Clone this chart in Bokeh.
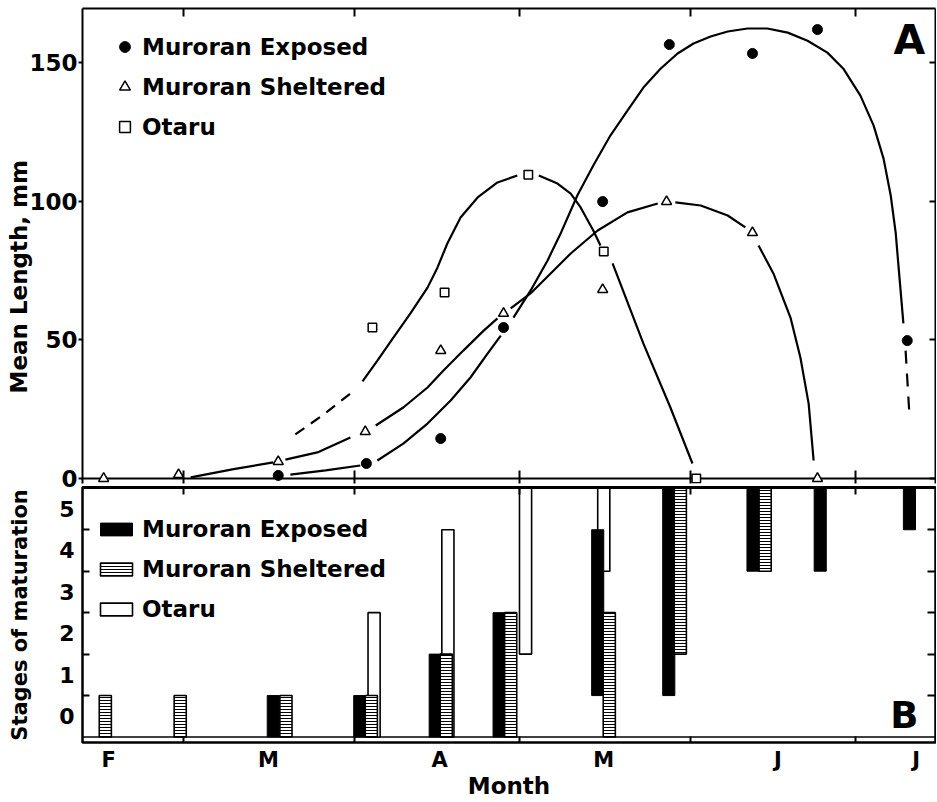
from bokeh.plotting import figure
from bokeh.models import Range1d, LinearAxis, FixedTicker, Span, Legend, LegendItem, Label, Title
from bokeh.layouts import column
from bokeh.embed import file_html
from bokeh.resources import INLINE

NaN = float("nan")
FONT = "DejaVu Sans"

# ---------------- x axis: day of year ----------------
month_start_days = [60, 91, 121, 152, 182]
month_label_days = [46.4, 75.4, 106.5, 136.3, 167.9, 193.0]
month_labels = ["F", "M", "A", "M", "J", "J"]

length_ticks = [0, 50, 100, 150]
stage_ticks = [0, 1, 2, 3, 4, 5]
stage_bounds = [0.5, 1.5, 2.5, 3.5, 4.5]

# ---------------- Panel A: mean length (mm) ----------------
exp_day = [77.2, 93.2, 106.7, 118.1, 136.1, 148.2, 163.3, 175.1, 191.4]
exp_len = [1.1, 5.4, 14.4, 54.4, 99.8, 156.4, 153.2, 161.8, 49.7]
she_day = [45.5, 59.1, 77.2, 93.0, 106.7, 118.1, 136.1, 147.7, 163.3, 175.1]
she_len = [0.0, 1.4, 6.1, 16.9, 46.1, 59.5, 68.1, 99.8, 88.6, 0.0]
ota_day = [94.3, 107.4, 122.6, 136.3, 153.1]
ota_len = [54.4, 67.0, 109.5, 81.8, 0.0]

# hand-drawn fitted curves (NaN = break)
exp_curve_day = [79.4, 85.8, 92.1, NaN,
                 95.2, 99.9, 104.3, 108.5, 112.1, 115.2, 117.6, NaN,
                 119.9, 123.0, 126.1, 128.4, 131.5, 134.4, 137.5, 140.6, 143.5, 146.6,
                 149.7, 152.6, 155.7, 158.8, 162.4, 166.0, 169.7, 173.3, 176.9, 179.8,
                 182.9, 185.3, 187.1, 188.4, 189.3, 189.8, 190.7]
exp_curve_len = [1.4, 2.9, 4.7, NaN,
                 6.5, 12.6, 19.8, 28.1, 36.4, 45.0, 51.5, NaN,
                 58.0, 67.7, 78.6, 88.0, 102.0, 112.8, 123.6, 132.6, 140.9, 147.7,
                 153.2, 156.8, 159.3, 161.1, 162.2, 162.2, 160.7, 157.8, 153.5, 147.7,
                 138.0, 127.2, 115.3, 102.0, 88.6, 76.8, 55.9]
exp_dash_day = [191.1, 191.8]
exp_dash_len = [46.1, 22.7]

she_curve_day = [61.3, 69.1, 76.3, NaN,
                 78.5, 84.3, 90.3, NaN,
                 94.9, 99.9, 104.3, 107.2, 110.8, 114.5, 117.0, NaN,
                 119.4, 123.0, 127.2, 130.3, 135.2, 140.6, 146.1, NaN,
                 149.3, 153.9, 158.8, 162.0, NaN,
                 164.4, 167.1, 170.2, 172.0, 173.5, 174.4]
she_curve_len = [0.4, 3.4, 5.8, NaN,
                 6.8, 9.4, 14.8, NaN,
                 19.1, 25.6, 32.8, 38.9, 46.1, 53.3, 57.7, NaN,
                 61.3, 66.7, 75.0, 81.1, 89.4, 95.9, 99.1, NaN,
                 99.5, 98.4, 94.8, 90.5, NaN,
                 84.0, 73.9, 58.0, 43.6, 27.0, 6.5]

ota_curve_day = [92.5, 95.2, 98.1, 101.2, 104.3, 106.1, 107.9, 110.3, 113.4, 117.0, 120.6, NaN,
                 124.5, 127.9, 130.3, 132.1, 134.4, 135.7, NaN,
                 137.9, 143.5, 148.4, 152.4]
ota_curve_len = [35.0, 42.5, 50.8, 59.5, 68.8, 76.0, 84.7, 94.1, 101.3, 106.7, 109.2, NaN,
                 109.2, 106.3, 102.7, 97.7, 89.4, 84.0, NaN,
                 77.5, 48.6, 25.6, 5.4]
ota_dash_day = [80.3, 85.2, 90.3]
ota_dash_len = [15.9, 22.7, 30.6]

# ---------------- Panel B: stages of maturation (range min..max) ----------------
exp_bar_day = [76.3, 92.0, 105.7, 117.3, 135.2, 148.1, 163.4, 175.6, 191.8]
exp_stage_min = [0, 0, 0, 0, 1, 1, 4, 4, 5]
exp_stage_max = [0, 0, 1, 2, 4, 5, 5, 5, 5]
she_bar_day = [45.8, 59.4, 78.6, 94.1, 107.7, 119.4, 137.3, 150.2, 165.6]
she_stage_min = [0, 0, 0, 0, 0, 0, 0, 2, 4]
she_stage_max = [0, 0, 0, 0, 1, 2, 2, 5, 5]
ota_bar_day = [94.6, 108.0, 122.1, 136.3]
ota_stage_min = [0, 0, 2, 4]
ota_stage_max = [2, 4, 5, 5]
BAR_W = 2.2


def style_text_axis(ax, size):
    ax.major_label_text_font = FONT
    ax.major_label_text_font_size = size
    ax.major_label_text_font_style = "bold"
    ax.major_label_text_color = "black"


def style_axis_label(ax, text, size, standoff):
    ax.axis_label = text
    ax.axis_label_text_font = FONT
    ax.axis_label_text_font_size = size
    ax.axis_label_text_font_style = "bold"
    ax.axis_label_text_color = "black"
    ax.axis_label_standoff = standoff


def tick_only_axis(ax, positions, tick_in, show_line=True):
    # ticks only (as minor ticks, no major ticks => no labels at all)
    ax.ticker = FixedTicker(ticks=[], minor_ticks=positions)
    ax.major_tick_in = 0
    ax.major_tick_out = 0
    ax.minor_tick_in = tick_in
    ax.minor_tick_out = 0
    ax.minor_tick_line_width = 2
    ax.minor_tick_line_color = "black"
    ax.major_label_standoff = 0
    ax.axis_line_width = 2
    ax.axis_line_color = "black" if show_line else None


xr = Range1d(41.66, 196.53)

# =============== Panel A ===============
pA = figure(width=936, height=496, x_range=xr, y_range=Range1d(-1.8, 169.4),
            output_backend="svg", toolbar_location=None,
            min_border_left=82, min_border_right=1, min_border_top=8, min_border_bottom=13)
pA.outline_line_color = None
pA.xgrid.visible = False
pA.ygrid.visible = False

ya = pA.yaxis[0]
ya.ticker = FixedTicker(ticks=length_ticks)
ya.minor_tick_line_color = None
ya.major_tick_in = 0
ya.major_tick_out = 4
ya.major_tick_line_width = 2
ya.major_tick_line_color = "black"
ya.axis_line_width = 2
ya.axis_line_color = "black"
style_text_axis(ya, "23px")
ya.major_label_standoff = 1

pA.add_layout(Title(text="Mean Length, mm", align="left", offset=90, vertical_align="bottom",
                    standoff=-11, text_font=FONT, text_font_size="23px", text_font_style="bold",
                    text_color="black"), "left")

tick_only_axis(pA.xaxis[0], month_start_days, 13, show_line=False)

ra = LinearAxis()
tick_only_axis(ra, length_ticks, 6)
pA.add_layout(ra, "right")

ta = LinearAxis()
tick_only_axis(ta, month_start_days, 8)
pA.add_layout(ta, "above")

pA.add_layout(Span(location=0, dimension="width", line_color="black", line_width=2,
                   level="underlay"))

pA.line(exp_curve_day, exp_curve_len, line_color="black", line_width=2.2)
pA.line(exp_dash_day, exp_dash_len, line_color="black", line_width=2.2, line_dash="13 10")
pA.line(she_curve_day, she_curve_len, line_color="black", line_width=2.2)
pA.line(ota_curve_day, ota_curve_len, line_color="black", line_width=2.2)
pA.line(ota_dash_day, ota_dash_len, line_color="black", line_width=2.2, line_dash="11 8")

r_exp = pA.scatter(exp_day, exp_len, marker="circle", size=10, fill_color="black", line_color="black")
r_she = pA.scatter(she_day, she_len, marker="triangle", size=10, fill_color="white",
                   line_color="black", line_width=1.5)
r_ota = pA.scatter(ota_day, ota_len, marker="square", size=8.5, fill_color="white",
                   line_color="black", line_width=1.5)

legA = Legend(items=[LegendItem(label="Muroran Exposed", renderers=[r_exp]),
                     LegendItem(label="Muroran Sheltered", renderers=[r_she]),
                     LegendItem(label="Otaru", renderers=[r_ota])],
              location="top_left", margin=25, padding=0, spacing=13,
              glyph_width=35, glyph_height=27, label_height=27, label_standoff=-4,
              label_text_font=FONT, label_text_font_size="23px", label_text_font_style="bold",
              label_text_color="black", background_fill_alpha=0, border_line_color=None)
pA.add_layout(legA)

pA.add_layout(Label(x=188.9, y=158.2, text="A", text_font=FONT, text_font_size="41px",
                    text_font_style="bold", text_baseline="alphabetic", text_color="black"))

# =============== Panel B ===============
pB = figure(width=936, height=316, x_range=xr, y_range=Range1d(-0.632, 5.519),
            output_backend="svg", toolbar_location=None,
            min_border_left=82, min_border_right=1, min_border_top=2, min_border_bottom=59)
pB.margin = (-11, 0, 0, 0)
pB.border_fill_alpha = 0
pB.background_fill_color = "white"
pB.outline_line_color = "black"
pB.outline_line_width = 2.5
pB.xgrid.visible = False
pB.ygrid.visible = False

yb = pB.yaxis[0]
yb.ticker = FixedTicker(ticks=stage_ticks, minor_ticks=stage_bounds)
yb.major_tick_in = 0
yb.major_tick_out = 0
yb.minor_tick_in = 7
yb.minor_tick_out = 0
yb.minor_tick_line_width = 2
yb.minor_tick_line_color = "black"
yb.axis_line_color = None
style_text_axis(yb, "22px")
yb.major_label_standoff = 8
style_axis_label(yb, "Stages of maturation", "21px", 24)

xb = pB.xaxis[0]
xb.ticker = FixedTicker(ticks=month_label_days, minor_ticks=month_start_days)
xb.major_label_overrides = {d: lab for d, lab in zip(month_label_days, month_labels)}
xb.major_tick_in = 0
xb.major_tick_out = 0
xb.minor_tick_in = 6
xb.minor_tick_out = 0
xb.minor_tick_line_width = 2
xb.minor_tick_line_color = "black"
xb.axis_line_color = None
style_text_axis(xb, "21px")
xb.major_label_standoff = 5
style_axis_label(xb, "Month", "23px", -2)

rb = LinearAxis()
tick_only_axis(rb, stage_bounds, 8, show_line=False)
pB.add_layout(rb, "right")

tb = LinearAxis()
tick_only_axis(tb, month_start_days, 7)
tb.axis_line_width = 3
pB.add_layout(tb, "above")

pB.add_layout(Span(location=-0.5, dimension="width", line_color="black", line_width=1.5,
                   level="underlay"))


def lows(v):
    return [s - 0.5 for s in v]


def highs(v):
    return [s + 0.5 for s in v]


b_ota = pB.vbar(x=ota_bar_day, width=BAR_W, bottom=lows(ota_stage_min), top=highs(ota_stage_max),
                fill_color="white", line_color="black", line_width=1.6)
b_exp = pB.vbar(x=exp_bar_day, width=BAR_W, bottom=lows(exp_stage_min), top=highs(exp_stage_max),
                fill_color="black", line_color="black", line_width=1)
b_she = pB.vbar(x=she_bar_day, width=BAR_W, bottom=lows(she_stage_min), top=highs(she_stage_max),
                fill_color="white", hatch_pattern="horizontal_line", hatch_color="black",
                hatch_scale=3, hatch_weight=1, line_color="black", line_width=1.6)

legB = Legend(items=[LegendItem(label="Muroran Exposed", renderers=[b_exp]),
                     LegendItem(label="Muroran Sheltered", renderers=[b_she]),
                     LegendItem(label="Otaru", renderers=[b_ota])],
              location=(14, 120), padding=0, spacing=13,
              glyph_width=40, glyph_height=16, label_height=27, label_standoff=6,
              label_text_font=FONT, label_text_font_size="23px", label_text_font_style="bold",
              label_text_color="black", background_fill_alpha=0, border_line_color=None)
pB.add_layout(legB)

pB.add_layout(Label(x=188.3, y=0.02, text="B", text_font=FONT, text_font_size="37px",
                    text_font_style="bold", text_baseline="alphabetic", text_color="black"))

layout = column(pA, pB)
open("out.html", "w").write(file_html(layout, INLINE))
